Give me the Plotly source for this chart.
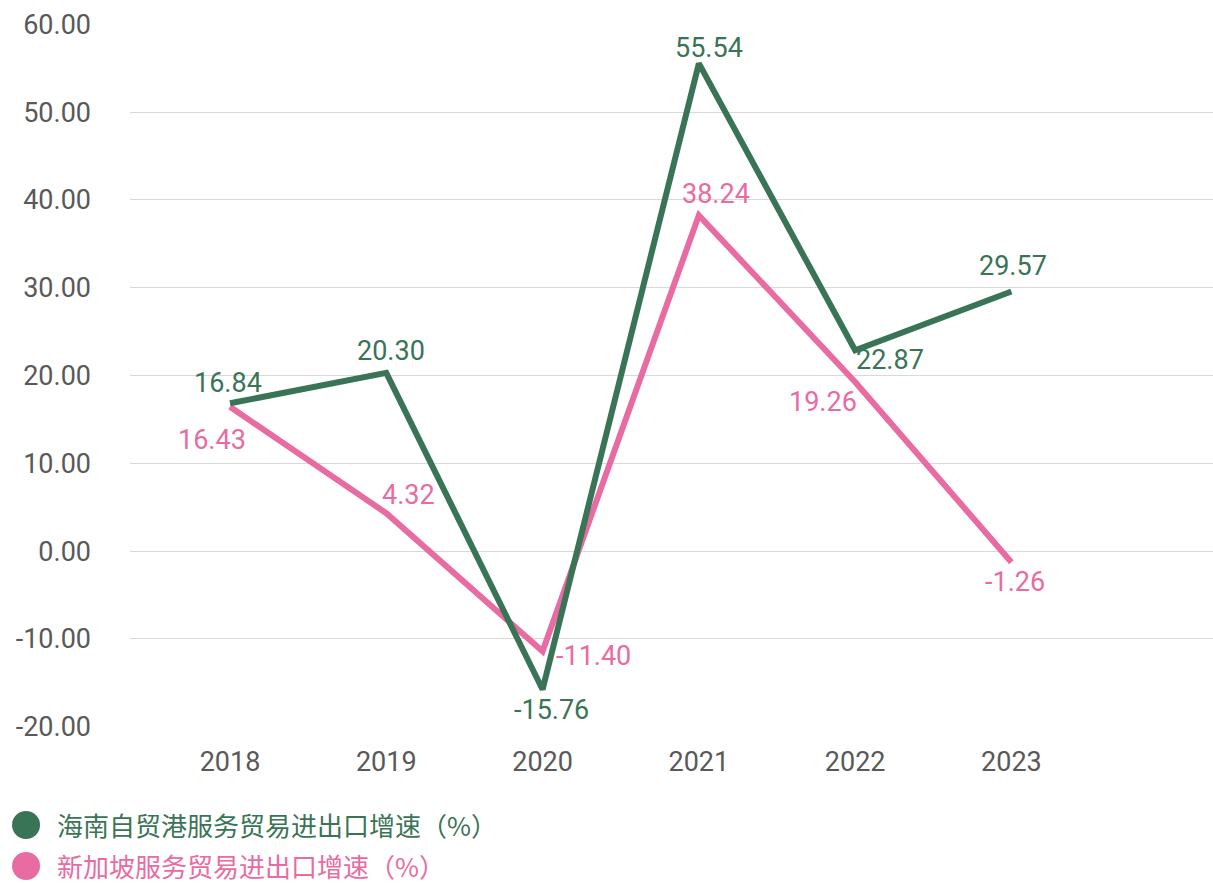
import plotly.graph_objects as go

years = ["2018", "2019", "2020", "2021", "2022", "2023"]
hainan = [16.84, 20.30, -15.76, 55.54, 22.87, 29.57]
singapore = [16.43, 4.32, -11.40, 38.24, 19.26, -1.26]
hainan_name = "海南自贸港服务贸易进出口增速（%）"
singapore_name = "新加坡服务贸易进出口增速（%）"
y_ticks = [-20, -10, 0, 10, 20, 30, 40, 50, 60]
y_ticktext = ["-20.00", "-10.00", "0.00", "10.00", "20.00", "30.00", "40.00", "50.00", "60.00"]

GREEN = "#3a7457"
PINK = "#e86ba2"
FONT = "Roboto, 'Noto Sans CJK SC', sans-serif"
CJK = "'Noto Sans CJK SC', Roboto, sans-serif"

# label pixel offsets (dx, dy) relative to the point
hainan_off = [(-2, -20), (5, -22), (9, 20), (10, -15), (35, 10), (2, -25)]
singapore_off = [(-18, 33), (22, -18), (51, 5), (17, -21), (-32, 20), (4, 20)]

x_idx = list(range(len(years)))

fig = go.Figure()
fig.add_trace(go.Scatter(
    x=x_idx, y=singapore, mode="lines", showlegend=False, name=singapore_name,
    line=dict(color=PINK, width=6),
))
fig.add_trace(go.Scatter(
    x=x_idx, y=hainan, mode="lines", showlegend=False, name=hainan_name,
    line=dict(color=GREEN, width=6),
))
for vals, offs, col in [(singapore, singapore_off, PINK), (hainan, hainan_off, GREEN)]:
    for xi, v, (dx, dy) in zip(x_idx, vals, offs):
        fig.add_annotation(x=xi, y=v, xref="x", yref="y", text=f"{v:.2f}",
                           showarrow=False, xshift=dx, yshift=-dy,
                           font=dict(color=col, size=27, family=FONT))

# custom legend (large circular swatches) below the plot
legend_items = [(hainan_name, GREEN, -0.1394), (singapore_name, PINK, -0.1977)]
for name, col, ly in legend_items:
    fig.add_shape(type="circle", xref="paper", yref="paper",
                  xsizemode="pixel", ysizemode="pixel",
                  xanchor=-0.096, yanchor=ly, x0=-14, x1=14, y0=-14, y1=14,
                  fillcolor=col, line=dict(width=0))
    fig.add_annotation(x=-0.0693, y=ly, xref="paper", yref="paper", text=name,
                       showarrow=False, xanchor="left", yanchor="middle",
                       font=dict(color=col, size=26, family=CJK))

fig.update_layout(
    width=1213, height=883,
    margin=dict(l=130, r=0, t=24, b=156, autoexpand=False),
    plot_bgcolor="white", paper_bgcolor="white",
    showlegend=False,
    font=dict(family=FONT, size=26, color="#595959"),
    xaxis=dict(range=[-0.64, 6.29], tickvals=x_idx, ticktext=years,
               showgrid=False, showline=False,
               zeroline=False, ticks="", tickfont=dict(size=27, color="#595959"),
               ticklabelstandoff=16),
    yaxis=dict(range=[-20.03, 60.03], tickvals=y_ticks, ticktext=y_ticktext,
               showgrid=True, gridcolor="#d9d9d9", gridwidth=1, zeroline=False,
               showline=False, ticks="", tickfont=dict(size=27, color="#595959"),
               ticklabelstandoff=38),
)

fig.write_html("out.html", config={"displayModeBar": False},
               post_script="document.body.style.margin='0';")
